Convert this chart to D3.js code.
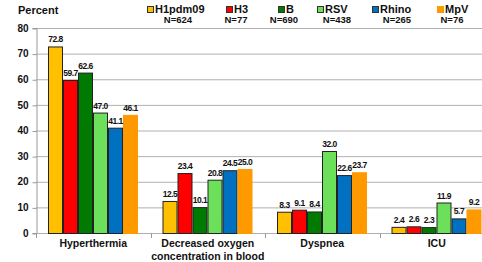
<!DOCTYPE html>
<html><head><meta charset="utf-8">
<script src="https://cdn.jsdelivr.net/npm/d3@7"></script>
<style>
body{margin:0;background:#fff;overflow:hidden}
text{font-family:"Liberation Sans",Arial,sans-serif;font-weight:bold;fill:#111}
text.val{letter-spacing:-0.5px}
</style></head>
<body><svg id="c" width="482" height="262"></svg>
<script>
const categories = [["Hyperthermia"], ["Decreased oxygen","concentration in blood"], ["Dyspnea"], ["ICU"]];
const seriesNames = ["H1pdm09","H3","B","RSV","Rhino","MpV"];
const seriesN = ["N=624","N=77","N=690","N=438","N=265","N=76"];
const colors = ["#FFC000","#FF0000","#007A00","#6CE05A","#0070C0","#FF9900"];
const H1pdm09 = [72.8, 12.5, 8.3, 2.4];
const H3 = [59.7, 23.4, 9.1, 2.6];
const B = [62.6, 10.1, 8.4, 2.3];
const RSV = [47.0, 20.8, 32.0, 11.9];
const Rhino = [41.1, 24.5, 22.6, 5.7];
const MpV = [46.1, 25.0, 23.7, 9.2];
const series = [H1pdm09, H3, B, RSV, Rhino, MpV];
const yTicks = [0,10,20,30,40,50,60,70,80];

const svg = d3.select("#c");
const y = d3.scaleLinear().domain([0,80]).range([233,28]);
const catIdx = categories.map((c,i)=>i);
const x0 = d3.scaleBand().domain(catIdx).range([36,494]).padding(0);
const x1 = d3.scaleBand().domain(d3.range(6)).range([12,102]).padding(0);

// gridlines
svg.append("g").selectAll("line").data(yTicks).join("line")
  .attr("x1",36).attr("x2",482).attr("y1",d=>y(d)+0.5).attr("y2",d=>y(d)+0.5)
  .attr("stroke","#b0b0b0").attr("stroke-width",1);

// y axis
const ya = svg.append("g").attr("transform","translate(36.5,0)")
  .call(d3.axisLeft(y).tickValues(yTicks).tickSize(4).tickPadding(4));
ya.select(".domain").attr("stroke","#999");
ya.selectAll(".tick line").attr("stroke","#999").attr("transform","translate(0,0.5)");
ya.selectAll(".tick text").style("font-size","10px").style("font-family","Liberation Sans, Arial").style("font-weight","bold").attr("fill","#111");

// x category ticks
svg.append("g").selectAll("line").data(d3.range(5)).join("line")
  .attr("x1",d=>Math.round(36+d*x0.bandwidth())+0.5).attr("x2",d=>Math.round(36+d*x0.bandwidth())+0.5)
  .attr("y1",233).attr("y2",238).attr("stroke","#999");

// bars
series.forEach((vals,s)=>{
  const g = svg.append("g");
  g.selectAll("rect").data(vals).join("rect")
    .attr("x",(d,i)=>x0(i)+x1(s)+0.5)
    .attr("y",d=>y(d)+0.5)
    .attr("width",x1.bandwidth()-1)
    .attr("height",d=>y(0)-y(d))
    .attr("fill",colors[s])
    .attr("stroke", s===5 ? "#FF9900" : "#222")
    .attr("stroke-width",1);
});
series.forEach((vals,s)=>{
  svg.append("g").selectAll("text").data(vals).join("text")
    .attr("class","val")
    .attr("x",(d,i)=>x0(i)+x1(s)+x1.bandwidth()/2)
    .attr("y",d=>y(d)-4)
    .attr("text-anchor","middle")
    .style("font-size","8.5px")
    .text(d=>d.toFixed(1));
});

// category labels
categories.forEach((lines,i)=>{
  const t = svg.append("text").attr("x",x0(i)+x0.bandwidth()/2).attr("y",247)
    .attr("text-anchor","middle").style("font-size","10.5px");
  lines.forEach((l,k)=>t.append("tspan").attr("x",x0(i)+x0.bandwidth()/2).attr("dy",k?13:0).text(l));
});

// Percent label
svg.append("text").attr("x",18).attr("y",14).style("font-size","11px").text("Percent");

// legend
const legX = [147,226,278,317,372,437];
const nX = [178,236,284,337,397,452];
seriesNames.forEach((n,i)=>{
  svg.append("rect").attr("x",legX[i]+0.5).attr("y",6.5).attr("width",6).attr("height",6)
    .attr("fill",colors[i]).attr("stroke",i===5?"#FF9900":"#333").attr("stroke-width",1);
  svg.append("text").attr("x",legX[i]+8).attr("y",13).style("font-size","11px").text(n);
  svg.append("text").attr("x",nX[i]).attr("y",23).attr("text-anchor","middle").style("font-size","9.5px").text(seriesN[i]);
});
</script></body></html>
